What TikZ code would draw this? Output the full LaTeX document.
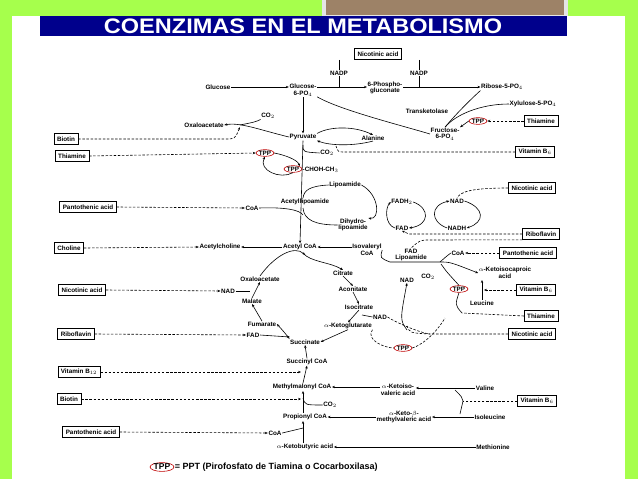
\documentclass[tikz,border=0pt]{standalone}
\usepackage{fontspec}
\setmainfont{Liberation Sans}
\usetikzlibrary{arrows.meta,shapes.geometric}
\begin{document}
\begin{tikzpicture}[x=1pt,y=-1pt,
  t/.style={inner sep=0.5pt,font=\fontsize{6.3}{6.6}\selectfont\bfseries,align=center},
  bx/.style={t,draw,line width=0.6pt,minimum height=11pt,inner xsep=3pt},
  tpp/.style={t,ellipse,draw=red!75!black,line width=0.6pt,inner sep=0.2pt},
  ln/.style={line width=0.6pt},
  ar/.style={ln,-{Stealth[length=3pt,width=2.4pt]}},
  da/.style={ln,dashed,dash pattern=on 2.5pt off 1.6pt},
  dar/.style={da,-{Stealth[length=3pt,width=2.4pt]}}]
\useasboundingbox (0,0) rectangle (638,479);
\fill[green!50!yellow!70!white] (0,0) rectangle (638,479);
\fill[white] (12,16) rectangle (625,479);
\fill[black!10] (322,0) rectangle (568,16);
\fill[brown!60!black!70!white] (326,0) rectangle (564,15);
\fill[blue!55!black] (40,16) rectangle (567,36);
\node[inner sep=0,text=white,font=\fontsize{21}{21}\selectfont\bfseries,xscale=1.12] (title) at (303,26) {COENZIMAS EN EL METABOLISMO};

% ---------- boxes left
\node[bx] (bBiot) at (66,139) {Biotin};
\node[bx] (bThia) at (72,156) {Thiamine};
\node[bx] (bPant) at (88,207) {Pantothenic acid};
\node[bx] (bChol) at (69,248) {Choline};
\node[bx] (bNic) at (82,290) {Nicotinic acid};
\node[bx] (bRib) at (76,334) {Riboflavin};
\node[bx] (bB12) at (79,372) {Vitamin B$_{12}$};
\node[bx] (bBiot2) at (69,399) {Biotin};
\node[bx] (bPant2) at (91,432) {Pantothenic acid};
% ---------- boxes right
\node[bx] (rNic0) at (378,54) {Nicotinic acid};
\node[bx] (rThia) at (541,121) {Thiamine};
\node[bx] (rB6) at (535,152) {Vitamin B$_6$};
\node[bx] (rNic) at (532,188) {Nicotinic acid};
\node[bx] (rRib) at (541,234) {Riboflavin};
\node[bx] (rPant) at (528,253) {Pantothenic acid};
\node[bx] (rB6b) at (536,290) {Vitamin B$_6$};
\node[bx] (rThia2) at (541,316) {Thiamine};
\node[bx] (rNic2) at (532,334) {Nicotinic acid};
\node[bx] (rB6c) at (537,401) {Vitamin B$_6$};

% ---------- metabolites
\node[t] (glc) at (218,87) {Glucose};
\node[t] (g6p) at (303,90) {Glucose-\\6-PO$_4$};
\node[t] (nadp1) at (339,73) {NADP};
\node[t] (nadp2) at (419,73) {NADP};
\node[t] (pg) at (385,88) {6-Phospho-\\gluconate};
\node[t] (rib) at (502,87) {Ribose-5-PO$_4$};
\node[t] (xyl) at (533,104) {Xylulose-5-PO$_4$};
\node[t] (tk) at (427,111) {Transketolase};
\node[tpp] (tpp1) at (478,121) {TPP};
\node[t] (fru) at (445,134) {Fructose-\\6-PO$_4$};
\node[t] (co2a) at (268,116) {CO$_2$};
\node[t] (oaa1) at (204,125) {Oxaloacetate};
\node[t] (pyr) at (303,137) {Pyruvate};
\node[t] (ala) at (373,138) {Alanine};
\node[t] (co2b) at (327,153) {CO$_2$};
\node[tpp] (tpp2) at (265,153) {TPP};
\node[tpp] (tpp3) at (293,169) {TPP};
\node[t,anchor=west] (choh) at (302,169.5) {-CHOH-CH$_3$};
\node[t] (lip) at (345,185) {Lipoamide};
\node[t] (acl) at (305,202) {Acetyllipoamide};
\node[t] (coa1) at (252,208) {CoA};
\node[t] (dhl) at (353,225) {Dihydro-\\lipoamide};
\node[t] (fadh) at (402,202) {FADH$_2$};
\node[t] (fad1) at (402,228) {FAD};
\node[t] (nad1) at (457,201) {NAD};
\node[t] (nadh) at (457,228) {NADH};
\node[t] (ach) at (220,247) {Acetylcholine};
\node[t] (acoa) at (300,247) {Acetyl CoA};
\node[t] (iso) at (367,250) {Isovaleryl\\CoA};
\node[t] (fadl) at (411,255) {FAD\\Lipoamide};
\node[t] (coa2) at (458,253) {CoA};
\node[t] (kic) at (505,273) {$\alpha$-Ketoisocaproic\\acid};
\node[t] (nad2) at (407,280) {NAD};
\node[t] (co2c) at (428,277) {CO$_2$};
\node[tpp] (tpp4) at (459,289) {TPP};
\node[t] (leu) at (482,303) {Leucine};
\node[t] (cit) at (343,273) {Citrate};
\node[t] (oaa2) at (260,279) {Oxaloacetate};
\node[t] (nad3) at (228,291) {NAD};
\node[t] (mal) at (252,301) {Malate};
\node[t] (aco) at (353,289) {Aconitate};
\node[t] (icit) at (359,307) {Isocitrate};
\node[t] (nad4) at (380,317) {NAD};
\node[t] (fum) at (262,324) {Fumarate};
\node[t] (akg) at (348,326) {$\alpha$-Ketoglutarate};
\node[t] (fad2) at (253,335) {FAD};
\node[t] (suc) at (305,342) {Succinate};
\node[tpp] (tpp5) at (403,348) {TPP};
\node[t] (scoa) at (307,362) {Succinyl CoA};
\node[t] (mmc) at (302,387) {Methylmalonyl CoA};
\node[t] (kiv) at (398,390) {$\alpha$-Ketoiso-\\valeric acid};
\node[t] (val) at (485,388) {Valine};
\node[t] (co2d) at (330,405) {CO$_2$};
\node[t] (pcoa) at (305,417) {Propionyl CoA};
\node[t] (kmv) at (404,417) {$\alpha$-Keto-$\beta$-\\methylvaleric acid};
\node[t] (ile) at (490,417) {Isoleucine};
\node[t] (coa3) at (275,433) {CoA};
\node[t] (kbu) at (305,447) {$\alpha$-Ketobutyric acid};
\node[t] (met) at (493,447) {Methionine};
% legend
\node[tpp,font=\fontsize{8.5}{9}\selectfont\bfseries] (ltpp) at (162,467) {TPP};
\node[t,anchor=west,font=\fontsize{9}{9}\selectfont\bfseries] (leg) at (ltpp.east) {= PPT (Pirofosfato de Tiamina o Cocarboxilasa)};

% ---------- connectors
\draw[ar] (glc) -- (g6p.west|-glc);
\draw[ar] (g6p.east|-glc) -- (pg.west|-glc);
\draw[ar] (pg.east|-glc) -- (rib.west|-glc);
\draw[ln] (rNic0.south-|nadp1) -- (nadp1.north);
\draw[ln] (rNic0.south-|nadp2) -- (nadp2.north);
\draw[ln] (nadp1.south) -- (339,87) (334,87) -- (344,87);
\draw[ln] (nadp2.south) -- (419,87) (414,87) -- (424,87);
\draw[ln] (g6p.south east) .. controls (340,110) and (400,125) .. (fru.west);
\draw[ln] (rib.south west) .. controls (470,100) and (455,115) .. (fru.north);
\draw[ln] (xyl.west) .. controls (480,104) and (455,115) .. (fru.north);
\draw[ar] (tpp1.west) -- (fru.north east);
\draw[dar] (rThia.west) -- (tpp1.east);
\draw[ar] (g6p.south) -- (pyr.north);
\draw[ar] (pyr.west) .. controls (260,130) and (240,122) .. (oaa1.east);
\draw[ln] (co2a.south west) .. controls (255,122) .. (240,125);
\draw[dar] (bBiot.east) -- (225,139) .. controls (235,139) .. (240,127);
\draw[dar] (bThia.east) -- (tpp2.west);
\draw[ar] (pyr.north east) .. controls (330,126) and (355,126) .. (ala.north);
\draw[ar] (ala.south) .. controls (355,146) and (330,146) .. (pyr.south east);
\draw[da] (rB6.west) -- (345,152) .. controls (338,152) .. (336,146);
\draw[ar] (pyr.south) -- (acoa.north);
\draw[ln] (303,145) .. controls (303,152) .. (co2b.west);
\draw[ar] (tpp2.east) .. controls (285,155) and (298,160) .. (tpp3.north east);
\draw[ar] (tpp3.south) .. controls (280,180) and (258,170) .. (tpp2.south);
\draw[ln] (lip.west) .. controls (310,186) and (304,190) .. (303,198);
\draw[ln] (303,208) .. controls (304,220) and (315,225) .. (dhl.west);
\draw[ln] (coa1.east) .. controls (285,207) and (300,210) .. (303,215);
\draw[dar] (bPant.east) -- (coa1.west);
\draw[ar] (lip.east) .. controls (380,195) and (380,220) .. (dhl.north east);
\draw[ar] (fad1.west) .. controls (385,225) and (385,208) .. (fadh.west);
\draw[ar] (fadh.east) .. controls (430,208) and (430,225) .. (fad1.east);
\draw[ar] (nadh.west) .. controls (430,222) and (430,205) .. (nad1.west);
\draw[ar] (nad1.east) .. controls (485,208) and (485,222) .. (nadh.east);
\draw[da] (rNic.west) .. controls (470,188) and (460,192) .. (nad1.north);
\draw[dar] (rRib.west) -- (fad1.east|-rRib) -- (fad1.south);
\draw[dar] (bChol.east) -- (ach.west);
\draw[ar] (acoa.west) -- (ach.east);
\draw[ar] (iso.west|-acoa) -- (acoa.east);
% TCA
\draw[ar] (303,253) .. controls (310,262) and (330,262) .. (cit.north);
\draw[ar] (cit.south) -- (aco.north);
\draw[ar] (aco.south) -- (icit.north);
\draw[ar] (icit.south) -- (akg.north);
\draw[ln] (nad4.west) -- (362,315);
\draw[ar] (akg.south) .. controls (335,335) .. (suc.east);
\draw[ar] (suc.north west) .. controls (285,333) .. (fum.east);
\draw[ar] (fum.north) -- (mal.south);
\draw[ar] (mal.north) -- (oaa2.south);
\draw[ln] (nad3.east) -- (250,291);
\draw[ar] (oaa2.north) .. controls (275,255) and (295,245) .. (305,255);
\draw[dar] (bNic.east) -- (nad3.west);
\draw[dar] (bRib.east) -- (fad2.west);
\draw[ar] (fad2.east) -- (290,337);
\draw[da] (akg.south east) .. controls (365,340) and (385,348) .. (tpp5.west);
\draw[da] (tpp5.east) .. controls (420,346) and (435,335) .. (445,318);
% lower spine
\draw[ar] (scoa.north) -- (suc.south);
\draw[ar] (303,383) -- (scoa.south);
\draw[ar] (303,413) -- (303,391);
\draw[ar] (303,443) -- (303,421);
\draw[ln] (303,398) .. controls (305,405) .. (co2d.west);
\draw[ln] (coa3.east) .. controls (295,430) .. (303,428);
\draw[dar] (bB12.east) -- (301,372);
\draw[dar] (bBiot2.east) -- (301,399);
\draw[dar] (bPant2.east) -- (coa3.west);
\draw[ar] (kiv.west|-mmc) -- (mmc.east);
\draw[ar] (val.west) -- (kiv.east|-val);
\draw[ar] (kmv.west|-pcoa) -- (pcoa.east);
\draw[ar] (ile.west) -- (kmv.east|-ile);
\draw[ar] (met.west) -- (kbu.east);
\draw[ln] (455,390) .. controls (462,397) .. (463,401) .. controls (462,407) .. (460,414);
\draw[da] (rB6c.west) -- (463,401);
% right branch
\draw[ln] (iso.east) .. controls (380,258) .. (390,262) -- (440,262);
\draw[ar] (440,262) .. controls (450,262) .. (kic.west);
\draw[ln] (coa2.west) .. controls (448,255) .. (440,262);
\draw[dar] (rPant.west) -- (coa2.east);
\draw[da] (rRib.south west) -- (430,240) .. controls (420,240) .. (fadl.north);
\draw[ar] (leu.north) -- (482,280);
\draw[dar] (rB6b.west) -- (484,290);
\draw[ln] (441,264) .. controls (445,270) .. (tpp4.north);
\draw[ln] (tpp4.south) .. controls (455,305) .. (462,313);
\draw[da] (rThia2.west) -- (462,313);
\draw[ar] (407,330) .. controls (400,320) .. (nad2.south);
\draw[da] (rNic2.west) -- (430,334) .. controls (410,333) .. (407,326);
\draw[da] (nad4.east) .. controls (395,322) and (420,333) .. (430,334);
\end{tikzpicture}
\end{document}
